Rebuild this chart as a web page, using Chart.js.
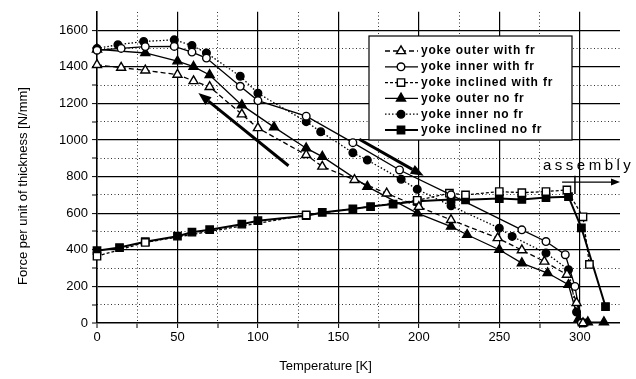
<!DOCTYPE html>
<html><head><meta charset="utf-8">
<script src="https://cdn.jsdelivr.net/npm/chart.js@4.4.1/dist/chart.umd.min.js"></script>
<style>html,body{margin:0;padding:0;background:#fff;}#wrap{width:636px;height:379px;}</style>
</head><body><div id="wrap"><canvas id="c" width="636" height="379"></canvas></div>
<script>
// ---------- data ----------
const xTitle = 'Temperature [K]';
const yTitle = 'Force per unit of thickness [N/mm]';
const assemblyLabel = 'assembly';
const seriesLabels = ['yoke outer with fr','yoke inner with fr','yoke inclined with fr','yoke outer no fr','yoke inner no fr','yoke inclined no fr'];
const xMajorTicks = [0,50,100,150,200,250,300];
const xMinorTicks = [25,75,125,175,225,275];
const yMajorTicks = [0,200,400,600,800,1000,1200,1400,1600];
const yMinorTicks = [100,300,500,700,900,1100,1300,1500];

const tOuterFr = [0,15,30,50,60,70,90,100,130,140,160,180,200,220,249,264,278,292,298,302];
const fOuterFr = [1410,1395,1380,1357,1322,1290,1140,1065,918,855,782,708,635,563,464,398,336,264,110,0];

const tInnerFr = [0,15,30,48,59,68,89,100,130,159,188,220,264,279,291,297,301];
const fInnerFr = [1490,1500,1510,1511,1480,1447,1293,1215,1130,985,836,700,509,445,373,200,0];

const tInclFr = [0,30,130,199,219,229,250,264,279,292,302,306];
const fInclFr = [365,440,590,670,709,700,718,712,718,727,580,320];

const tOuterNo = [0,30,50,60,70,90,110,130,140,168,199,220,230,250,264,280,293,299,305,315];
const fOuterNo = [1495,1475,1430,1400,1355,1190,1070,955,909,745,600,527,482,400,327,273,209,18,5,5];

const tInnerNo = [0,13,29,48,59,68,89,100,130,139,159,168,189,199,220,250,258,279,293,298,303];
const fInnerNo = [1500,1520,1538,1547,1516,1475,1348,1255,1100,1045,930,890,785,730,640,518,473,382,291,60,0];

const tInclNo = [0,14,30,50,59,70,90,100,130,140,159,170,184,199,220,229,250,264,279,293,301,316];
const fInclNo = [395,412,444,474,496,510,540,559,586,604,623,636,650,665,675,673,680,675,685,690,520,90];

// annotation arrows (data coordinates: [start, end])
const arrowCoolT = [119, 63];  const arrowCoolF = [859, 1257];
const arrowWarmT = [163, 203]; const arrowWarmF = [1004, 804];
const assemblyT = [289, 325];  const assemblyF = 770;
const assemblyTickT = 297;     const assemblyTickF = [705, 805];

// ---------- chart ----------
const pts = (t, f) => t.map((x, i) => ({x: x, y: f[i]}));
const K = '#000';
const font = '"Liberation Sans", Arial, sans-serif';

function mkSet(i, t, f, style, filled, dash, r, bw) {
  return {
    label: seriesLabels[i], data: pts(t, f),
    borderColor: K, borderWidth: bw, borderDash: dash, tension: 0, clip: false,
    pointStyle: style, pointRadius: r, pointHoverRadius: r,
    pointBackgroundColor: filled ? K : '#fff', pointBorderColor: K, pointBorderWidth: 1.4,
    _filled: filled
  };
}

const datasets = [
  mkSet(0, tOuterFr, fOuterFr, 'triangle', false, [5,3], 5.2, 1.3),
  mkSet(1, tInnerFr, fInnerFr, 'circle', false, [], 3.8, 1.3),
  mkSet(2, tInclFr, fInclFr, 'rect', false, [3,2], 5.2, 1.3),
  mkSet(3, tOuterNo, fOuterNo, 'triangle', true, [], 5.2, 1.3),
  mkSet(4, tInnerNo, fInnerNo, 'circle', true, [1.5,2], 3.8, 1.3),
  mkSet(5, tInclNo, fInclNo, 'rect', true, [], 5.2, 2)
];

function marker(ctx, style, x, y, r, filled) {
  ctx.beginPath();
  if (style === 'triangle') {
    for (let k = 0; k < 3; k++) {
      const a = k * 2 * Math.PI / 3;
      const px = x + Math.sin(a) * r, py = y - Math.cos(a) * r;
      k ? ctx.lineTo(px, py) : ctx.moveTo(px, py);
    }
    ctx.closePath();
  } else if (style === 'rect') {
    const s = r * Math.SQRT1_2;
    ctx.rect(x - s, y - s, 2 * s, 2 * s);
  } else {
    ctx.arc(x, y, r, 0, Math.PI * 2);
  }
  ctx.fillStyle = filled ? K : '#fff';
  ctx.fill();
  ctx.lineWidth = 1.4; ctx.strokeStyle = K; ctx.setLineDash([]);
  ctx.stroke();
}

function arrow(ctx, x1, y1, x2, y2, w, head) {
  const a = Math.atan2(y2 - y1, x2 - x1);
  const bx = x2 - Math.cos(a) * head, by = y2 - Math.sin(a) * head;
  ctx.save();
  ctx.strokeStyle = K; ctx.fillStyle = K; ctx.lineWidth = w; ctx.setLineDash([]);
  ctx.beginPath(); ctx.moveTo(x1, y1); ctx.lineTo(bx, by); ctx.stroke();
  ctx.beginPath();
  ctx.moveTo(x2, y2);
  ctx.lineTo(bx + Math.sin(a) * head * 0.38, by - Math.cos(a) * head * 0.38);
  ctx.lineTo(bx - Math.sin(a) * head * 0.38, by + Math.cos(a) * head * 0.38);
  ctx.closePath(); ctx.fill();
  ctx.restore();
}

const overlay = {
  id: 'overlay',
  afterDatasetsDraw(chart) {
    const ctx = chart.ctx, xs = chart.scales.x, ys = chart.scales.y;
    const X = v => xs.getPixelForValue(v), Y = v => ys.getPixelForValue(v);
    arrow(ctx, X(arrowCoolT[0]), Y(arrowCoolF[0]), X(arrowCoolT[1]), Y(arrowCoolF[1]), 3, 13);
    arrow(ctx, X(arrowWarmT[0]), Y(arrowWarmF[0]), X(arrowWarmT[1]), Y(arrowWarmF[1]), 3, 13);
    arrow(ctx, X(assemblyT[0]), Y(assemblyF), X(assemblyT[1]), Y(assemblyF), 1.3, 9);
    ctx.save();
    ctx.strokeStyle = K; ctx.lineWidth = 1.5;
    ctx.beginPath(); ctx.moveTo(X(assemblyTickT), Y(assemblyTickF[0])); ctx.lineTo(X(assemblyTickT), Y(assemblyTickF[1])); ctx.stroke();
    ctx.fillStyle = K; ctx.font = '15px ' + font; ctx.textBaseline = 'alphabetic'; ctx.textAlign = 'left';
    if ('letterSpacing' in ctx) ctx.letterSpacing = '3.5px';
    ctx.fillText(assemblyLabel, 543, 170);
    ctx.restore();

    const L = 369, R = 572, T = 36, B = 140;
    ctx.save();
    ctx.fillStyle = '#fff'; ctx.fillRect(L, T, R - L, B - T);
    ctx.strokeStyle = K; ctx.lineWidth = 1.2; ctx.setLineDash([]);
    ctx.strokeRect(L, T, R - L, B - T);
    ctx.font = 'bold 12px ' + font; ctx.textBaseline = 'middle'; ctx.textAlign = 'left';
    if ('letterSpacing' in ctx) ctx.letterSpacing = '0.8px';
    chart.data.datasets.forEach((ds, i) => {
      const yy = 51 + i * 15.8;
      ctx.strokeStyle = K; ctx.lineWidth = ds.borderWidth; ctx.setLineDash(ds.borderDash || []);
      ctx.beginPath(); ctx.moveTo(385, yy); ctx.lineTo(418, yy); ctx.stroke();
      marker(ctx, ds.pointStyle, 401, yy, ds.pointRadius, ds._filled);
      ctx.fillStyle = K;
      ctx.fillText(ds.label, 421, yy);
    });
    ctx.restore();
  },
  afterDraw(chart) {
    const ctx = chart.ctx, xs = chart.scales.x;
    ctx.save();
    ctx.fillStyle = K; ctx.font = '13px ' + font; ctx.textAlign = 'center'; ctx.textBaseline = 'middle';
    ctx.fillText(xTitle, xs.getPixelForValue(142), 366);
    ctx.translate(23, 186); ctx.rotate(-Math.PI / 2);
    ctx.fillText(yTitle, 0, 0);
    ctx.restore();
  }
};

new Chart(document.getElementById('c'), {
  type: 'line',
  data: { datasets: datasets },
  options: {
    responsive: false, animation: false, devicePixelRatio: 1,
    layout: { padding: { left: 0, right: 16, top: 10, bottom: 0 } },
    plugins: { legend: { display: false }, tooltip: { enabled: false } },
    scales: {
      x: {
        type: 'linear', min: 0, max: 325,
        afterBuildTicks: s => { s.ticks = xMajorTicks.concat(xMinorTicks).sort((a,b)=>a-b).map(v => ({value: v})); },
        afterFit: s => { s.height = 56; },
        ticks: { color: K, font: { family: font, size: 13 }, padding: 2, maxRotation: 0, autoSkip: false,
                 callback: v => (v % 50 === 0 ? String(v) : '') },
        grid: { color: K, lineWidth: c => (c.tick && c.tick.value % 50 === 0 && c.tick.value > 0 ? 1.2 : 0),
                tickColor: K, tickLength: 5, tickWidth: 1 },
        border: { color: K, width: 1.6 }
      },
      x2: {
        type: 'linear', position: 'top', min: 0, max: 325,
        afterBuildTicks: s => { s.ticks = xMinorTicks.map(v => ({value: v})); },
        afterFit: s => { s.height = 0; },
        ticks: { display: false },
        grid: { color: '#333', lineWidth: 1, drawTicks: false },
        border: { display: false, dash: [1, 2.5] }
      },
      y: {
        type: 'linear', min: 0, max: 1700,
        afterBuildTicks: s => { s.ticks = yMajorTicks.concat(yMinorTicks).sort((a,b)=>a-b).map(v => ({value: v})); },
        afterFit: s => { s.width = 97; },
        ticks: { color: K, font: { family: font, size: 13 }, padding: 4, autoSkip: false,
                 callback: v => (v % 200 === 0 ? String(v) : '') },
        grid: { color: K, lineWidth: c => (c.tick && c.tick.value % 200 === 0 && c.tick.value > 0 ? 1.2 : 0),
                tickColor: K, tickLength: 5, tickWidth: 1 },
        border: { color: K, width: 1.6 }
      },
      y2: {
        type: 'linear', position: 'right', min: 0, max: 1700,
        afterBuildTicks: s => { s.ticks = yMinorTicks.map(v => ({value: v})); },
        afterFit: s => { s.width = 0; },
        ticks: { display: false },
        grid: { color: '#333', lineWidth: 1, drawTicks: false },
        border: { display: false, dash: [1, 2.5] }
      }
    }
  },
  plugins: [overlay]
});
</script></body></html>
